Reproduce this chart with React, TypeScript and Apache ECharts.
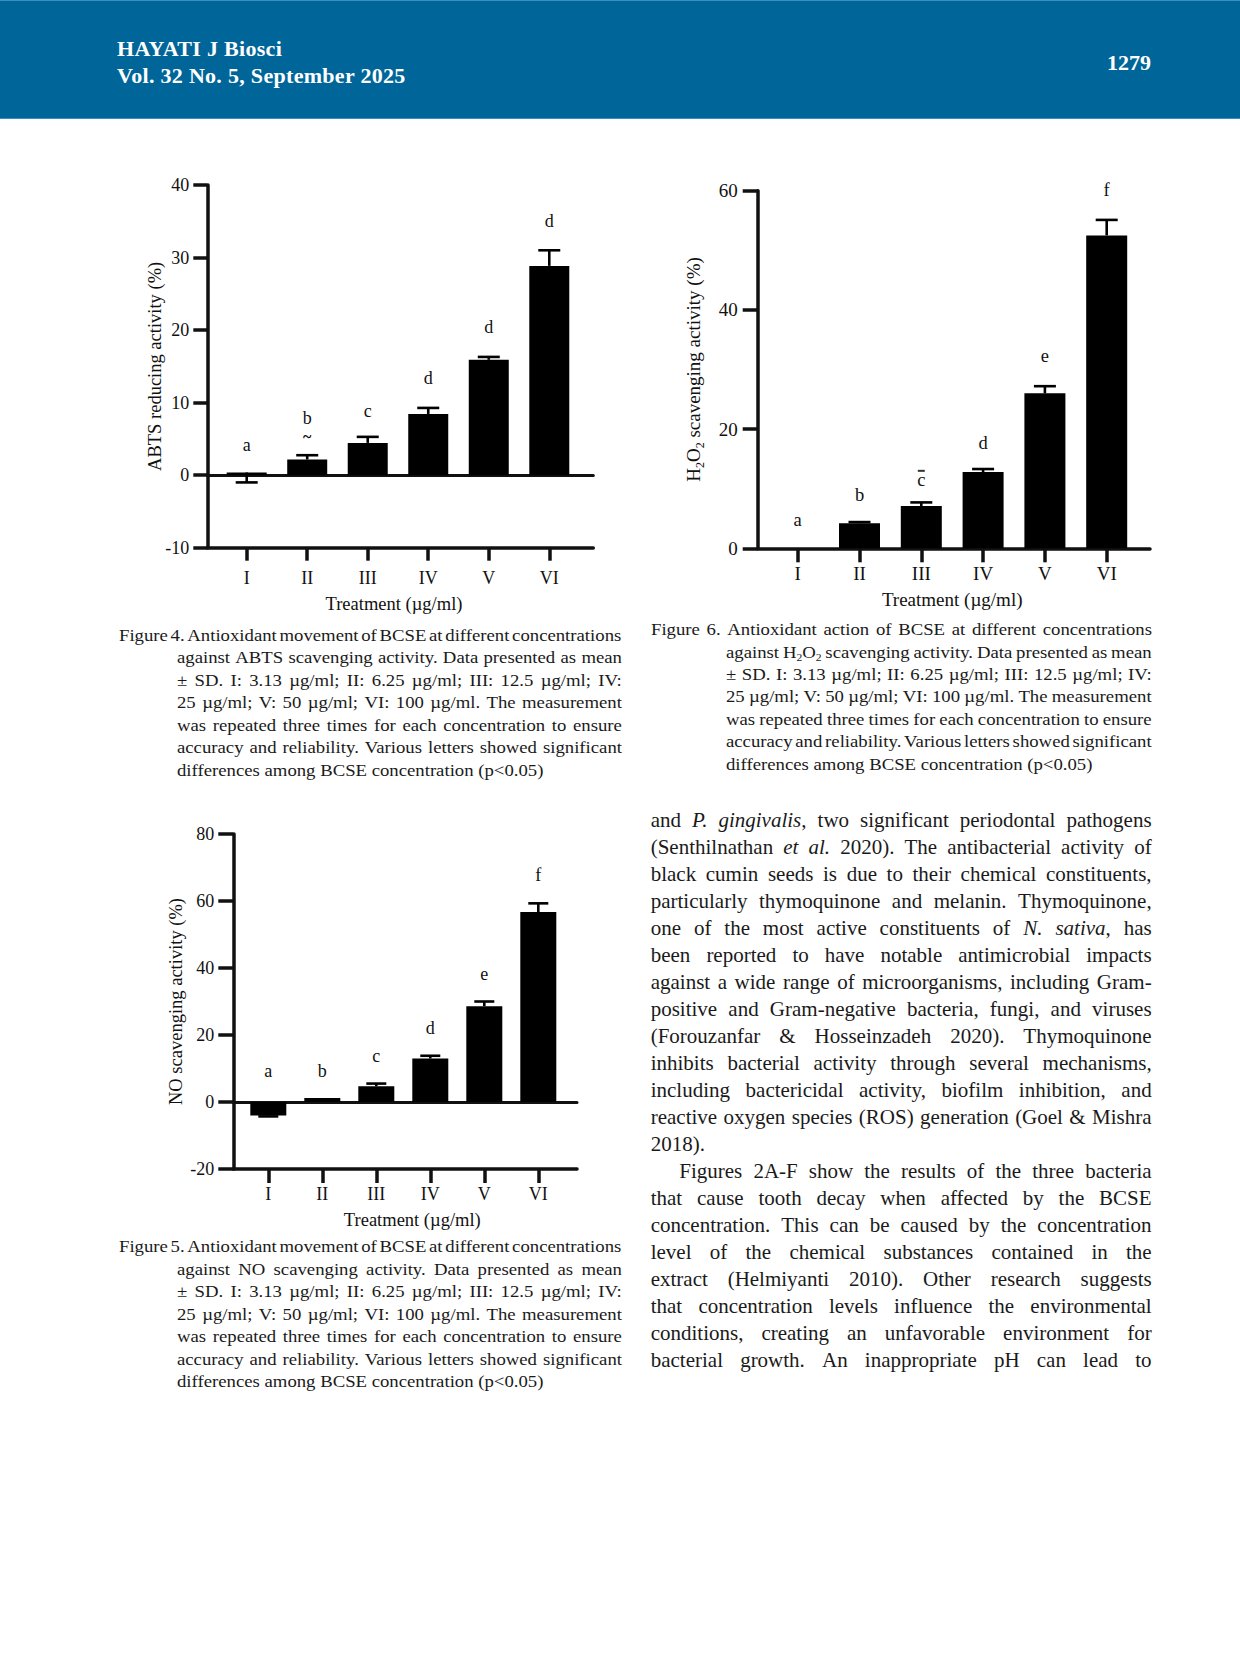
import React, { useEffect, useRef } from "react";
import * as echarts from "echarts";

const SERIF = '"Liberation Serif", "Times New Roman", Times, serif';
const INK = "#111111";
const TEXT = "#1a1a1a";

// ---------------- data ----------------
const CATEGORIES = ["I", "II", "III", "IV", "V", "VI"];
const X_NAME = "Treatment (µg/ml)";

// Figure 4 – ABTS
const ABTS_MEAN = [0.37, 2.16, 4.45, 8.44, 15.9, 28.85];
const ABTS_SD_END = [-1.0, 2.75, 5.28, 9.27, 16.3, 31.0];
const ABTS_LETTERS = ["a", "b", "c", "d", "d", "d"];
const ABTS_LETTER_POS = [4.17, 7.84, 8.8, 13.4, 20.4, 35.1];
const ABTS_TILDE_POS = [null, 5.3, null, null, null, null];
const ABTS_DASH_POS = [null, null, null, null, null, null];
const ABTS_Y_RANGE = [-10, 40, 10];

// Figure 6 – H2O2
const H2O2_MEAN = [0, 4.2, 7.1, 12.8, 26.0, 52.5];
const H2O2_SD_END = [0, 4.4, 7.7, 13.3, 27.2, 55.1];
const H2O2_LETTERS = ["a", "b", "c", "d", "e", "f"];
const H2O2_LETTER_POS = [4.7, 8.9, 11.4, 17.6, 32.3, 60.1];
const H2O2_TILDE_POS = [null, null, null, null, null, null];
const H2O2_DASH_POS = [null, null, 13.0, null, null, null];
const H2O2_Y_RANGE = [0, 60, 20];

// Figure 5 – NO
const NO_MEAN = [-4.0, 1.2, 4.7, 13.0, 28.6, 56.7];
const NO_SD_END = [-4.3, 1.2, 5.5, 13.8, 30.0, 59.3];
const NO_LETTERS = ["a", "b", "c", "d", "e", "f"];
const NO_LETTER_POS = [9.35, 9.15, 13.6, 22.2, 38.1, 67.8];
const NO_TILDE_POS = [null, null, null, null, null, null];
const NO_DASH_POS = [null, null, null, null, null, null];
const NO_Y_RANGE = [-20, 80, 20];

// ---------------- page text ----------------
const HEADER_LEFT = ["HAYATI J Biosci", "Vol. 32 No. 5, September 2025"];
const HEADER_PAGE = "1279";

const CAP4 = [
  "Figure 4. Antioxidant movement of BCSE at different concentrations",
  "against ABTS scavenging activity. Data presented as mean",
  "± SD. I: 3.13 µg/ml; II: 6.25 µg/ml; III: 12.5 µg/ml; IV:",
  "25 µg/ml; V: 50 µg/ml; VI: 100 µg/ml. The measurement",
  "was repeated three times for each concentration to ensure",
  "accuracy and reliability. Various letters showed significant",
  "differences among BCSE concentration (p<0.05)",
];
const CAP6 = [
  "Figure 6. Antioxidant action of BCSE at different concentrations",
  "against H~2~O~2~ scavenging activity. Data presented as mean",
  "± SD. I: 3.13 µg/ml; II: 6.25 µg/ml; III: 12.5 µg/ml; IV:",
  "25 µg/ml; V: 50 µg/ml; VI: 100 µg/ml. The measurement",
  "was repeated three times for each concentration to ensure",
  "accuracy and reliability. Various letters showed significant",
  "differences among BCSE concentration (p<0.05)",
];
const CAP5 = [
  "Figure 5. Antioxidant movement of BCSE at different concentrations",
  "against NO scavenging activity. Data presented as mean",
  "± SD. I: 3.13 µg/ml; II: 6.25 µg/ml; III: 12.5 µg/ml; IV:",
  "25 µg/ml; V: 50 µg/ml; VI: 100 µg/ml. The measurement",
  "was repeated three times for each concentration to ensure",
  "accuracy and reliability. Various letters showed significant",
  "differences among BCSE concentration (p<0.05)",
];
const BODY = [
  "and *P. gingivalis*, two significant periodontal pathogens",
  "(Senthilnathan *et al.* 2020). The antibacterial activity of",
  "black cumin seeds is due to their chemical constituents,",
  "particularly thymoquinone and melanin. Thymoquinone,",
  "one of the most active constituents of *N. sativa*, has",
  "been reported to have notable antimicrobial impacts",
  "against a wide range of microorganisms, including Gram-",
  "positive and Gram-negative bacteria, fungi, and viruses",
  "(Forouzanfar & Hosseinzadeh 2020). Thymoquinone",
  "inhibits bacterial activity through several mechanisms,",
  "including bactericidal activity, biofilm inhibition, and",
  "reactive oxygen species (ROS) generation (Goel & Mishra",
  "2018).",
  "Figures 2A-F show the results of the three bacteria",
  "that cause tooth decay when affected by the BCSE",
  "concentration. This can be caused by the concentration",
  "level of the chemical substances contained in the",
  "extract (Helmiyanti 2010). Other research suggests",
  "that concentration levels influence the environmental",
  "conditions, creating an unfavorable environment for",
  "bacterial growth. An inappropriate pH can lead to",
];
const BODY_LEFT_ALIGNED = [12];
const BODY_INDENTED = [13];

// ---------------- chart layout ----------------
const PANELS = [
  {
    mean: ABTS_MEAN, sdEnd: ABTS_SD_END, letters: ABTS_LETTERS, letterPos: ABTS_LETTER_POS,
    tildePos: ABTS_TILDE_POS, dashPos: ABTS_DASH_POS, yRange: ABTS_Y_RANGE,
    yName: "ABTS reducing activity (%)", rich: false,
    frame: { left: 207.3, top: 185, width: 386, height: 362.7 },
    plotLeft: 216.44, plotWidth: 363.1, barWidth: 40, capWidth: 22, zeroLine: true,
    fontSize: 18, nameSize: 18.5, letterSize: 18,
    yTickLen: 14, yLabelMargin: 18, yNameGap: 43,
    xTickLen: 13, xLabelMargin: 21, xNameGap: 47, xNamePad: [0, 8, 0, 0],
  },
  {
    mean: H2O2_MEAN, sdEnd: H2O2_SD_END, letters: H2O2_LETTERS, letterPos: H2O2_LETTER_POS,
    tildePos: H2O2_TILDE_POS, dashPos: H2O2_DASH_POS, yRange: H2O2_Y_RANGE,
    yName: "H{sub|2}O{sub|2} scavenging activity (%)", rich: true,
    frame: { left: 757.7, top: 190.7, width: 392.3, height: 357.6 },
    plotLeft: 766.8, plotWidth: 370.8, barWidth: 41, capWidth: 22, zeroLine: false,
    fontSize: 19, nameSize: 19, letterSize: 18.5,
    yTickLen: 15, yLabelMargin: 20, yNameGap: 52,
    xTickLen: 14, xLabelMargin: 16, xNameGap: 41.5, xNamePad: [0, 0, 0, 0],
  },
  {
    mean: NO_MEAN, sdEnd: NO_SD_END, letters: NO_LETTERS, letterPos: NO_LETTER_POS,
    tildePos: NO_TILDE_POS, dashPos: NO_DASH_POS, yRange: NO_Y_RANGE,
    yName: "NO scavenging activity (%)", rich: false,
    frame: { left: 233.3, top: 834, width: 343.7, height: 335 },
    plotLeft: 241.3, plotWidth: 324, barWidth: 36, capWidth: 20, zeroLine: true,
    fontSize: 18, nameSize: 18.5, letterSize: 18,
    yTickLen: 15, yLabelMargin: 19, yNameGap: 48,
    xTickLen: 14, xLabelMargin: 16, xNameGap: 41.5, xNamePad: [0, 0, 0, 18],
  },
];

function buildOption() {
  const grid: any[] = [];
  const xAxis: any[] = [];
  const yAxis: any[] = [];
  const series: any[] = [];

  PANELS.forEach((p) => {
    const gA = grid.length;
    grid.push({ left: p.frame.left, top: p.frame.top, width: p.frame.width, height: p.frame.height, containLabel: false, outerBoundsMode: "none" });
    const gB = grid.length;
    grid.push({ left: p.plotLeft, top: p.frame.top, width: p.plotWidth, height: p.frame.height, containLabel: false, outerBoundsMode: "none" });
    const [ymin, ymax, ystep] = p.yRange;

    yAxis.push({
      type: "value", gridIndex: gA, min: ymin, max: ymax, interval: ystep, position: "left",
      axisLine: { show: true, onZero: false, lineStyle: { color: INK, width: 3.5 } },
      axisTick: { show: true, length: p.yTickLen, lineStyle: { color: INK, width: 3.5 } },
      axisLabel: { show: true, margin: p.yLabelMargin, color: INK, fontFamily: SERIF, fontSize: p.fontSize },
      splitLine: { show: false },
      name: p.yName, nameLocation: "middle", nameRotate: 90, nameGap: p.yNameGap, nameMoveOverlap: false,
      nameTextStyle: {
        color: INK, fontFamily: SERIF, fontSize: p.nameSize,
        rich: p.rich ? { sub: { fontSize: 12, fontFamily: SERIF, color: INK, verticalAlign: "bottom", lineHeight: 24 } } : undefined,
      },
    });
    const yB = yAxis.length;
    yAxis.push({ type: "value", gridIndex: gB, min: ymin, max: ymax, interval: ystep, show: false, splitLine: { show: false } });

    xAxis.push({
      type: "value", gridIndex: gA, min: 0, max: 1, position: "bottom",
      axisLine: { show: true, onZero: false, lineStyle: { color: INK, width: 3.5 } },
      axisTick: { show: false }, axisLabel: { show: false }, splitLine: { show: false },
    });
    if (p.zeroLine) {
      xAxis.push({
        type: "value", gridIndex: gA, min: 0, max: 1, position: "top",
        axisLine: { show: true, onZero: true, lineStyle: { color: INK, width: 3 } },
        axisTick: { show: false }, axisLabel: { show: false }, splitLine: { show: false },
      });
    }
    const xB = xAxis.length;
    xAxis.push({
      type: "category", gridIndex: gB, data: CATEGORIES, position: "bottom", boundaryGap: true,
      axisLine: { show: false, onZero: false },
      axisTick: { show: true, alignWithLabel: true, length: p.xTickLen, lineStyle: { color: INK, width: 3.5 } },
      axisLabel: { show: true, interval: 0, margin: p.xLabelMargin, color: INK, fontFamily: SERIF, fontSize: p.fontSize },
      splitLine: { show: false },
      name: X_NAME, nameLocation: "middle", nameGap: p.xNameGap, nameMoveOverlap: false,
      nameTextStyle: { color: INK, fontFamily: SERIF, fontSize: p.nameSize, padding: p.xNamePad },
    });

    series.push({
      type: "bar", xAxisIndex: xB, yAxisIndex: yB, data: p.mean, barWidth: p.barWidth,
      itemStyle: { color: "#000" }, silent: true, z: 2,
    });
    // error bars (whisker + cap)
    series.push({
      type: "custom", xAxisIndex: xB, yAxisIndex: yB, silent: true, z: 3,
      data: p.mean.map((m, i) => [i, m, p.sdEnd[i]]),
      encode: { x: 0, y: [1, 2] },
      renderItem: (params: any, api: any) => {
        const i = api.value(0);
        const a = api.coord([i, api.value(1)]);
        const b = api.coord([i, api.value(2)]);
        if (Math.abs(a[1] - b[1]) < 0.5) return null;
        const h = p.capWidth / 2;
        return {
          type: "group",
          children: [
            { type: "line", shape: { x1: a[0], y1: a[1], x2: b[0], y2: b[1] }, style: { stroke: "#000", lineWidth: 2.6 } },
            { type: "line", shape: { x1: b[0] - h, y1: b[1], x2: b[0] + h, y2: b[1] }, style: { stroke: "#000", lineWidth: 2.6 } },
          ],
        };
      },
    });
    // significance letters
    series.push({
      type: "custom", xAxisIndex: xB, yAxisIndex: yB, silent: true, z: 4,
      data: p.letterPos.map((v, i) => [i, v]),
      encode: { x: 0, y: 1 },
      renderItem: (params: any, api: any) => {
        const pt = api.coord([api.value(0), api.value(1)]);
        return {
          type: "text", x: pt[0], y: pt[1],
          style: { text: p.letters[params.dataIndex], fill: INK, fontFamily: SERIF, fontSize: p.letterSize, align: "center", verticalAlign: "middle" },
        };
      },
    });
    // small stray marks seen in the figure (tilde / short dash)
    series.push({
      type: "custom", xAxisIndex: xB, yAxisIndex: yB, silent: true, z: 4,
      data: p.tildePos.map((v, i) => [i, v == null ? NaN : v, p.dashPos[i] == null ? NaN : p.dashPos[i]]),
      encode: { x: 0, y: [1, 2] },
      renderItem: (params: any, api: any) => {
        const i = api.value(0);
        const children: any[] = [];
        const t = p.tildePos[params.dataIndex];
        const d = p.dashPos[params.dataIndex];
        if (t != null) {
          const pt = api.coord([i, t]);
          children.push({ type: "text", x: pt[0], y: pt[1], style: { text: "~", fill: INK, fontFamily: SERIF, fontSize: 16, fontWeight: "bold", align: "center", verticalAlign: "middle" } });
        }
        if (d != null) {
          const pt = api.coord([i, d]);
          children.push({ type: "line", shape: { x1: pt[0] - 3.5, y1: pt[1], x2: pt[0] + 3.5, y2: pt[1] }, style: { stroke: "#333", lineWidth: 2 } });
        }
        return children.length ? { type: "group", children } : null;
      },
    });
  });

  return { animation: false, backgroundColor: "transparent", grid, xAxis, yAxis, series };
}

// ---------------- text helpers ----------------
type Piece = { text: string; italic: boolean; sub: boolean };

function parsePieces(s: string): Piece[] {
  const out: Piece[] = [];
  let italic = false;
  let sub = false;
  let buf = "";
  const flush = () => {
    if (buf) out.push({ text: buf, italic, sub });
    buf = "";
  };
  for (const ch of s) {
    if (ch === "*") { flush(); italic = !italic; }
    else if (ch === "~") { flush(); sub = !sub; }
    else buf += ch;
  }
  flush();
  return out;
}

function toWords(pieces: Piece[]): Piece[][] {
  const words: Piece[][] = [[]];
  pieces.forEach((pc) => {
    const parts = pc.text.split(" ");
    parts.forEach((part, j) => {
      if (j > 0) words.push([]);
      if (part) words[words.length - 1].push({ ...pc, text: part });
    });
  });
  return words.filter((w) => w.length > 0);
}

function renderPiece(pc: Piece, key: string) {
  let node: any = pc.text;
  if (pc.sub) node = <sub style={{ fontSize: "0.62em", verticalAlign: "-0.3em", lineHeight: 0 }}>{node}</sub>;
  if (pc.italic) node = <i>{node}</i>;
  return <span key={key}>{node}</span>;
}

function TextLine(props: {
  x: number; baseline: number; width: number; fs: number; lh: number; text: string;
  justify: boolean; bold?: boolean; color?: string; align?: string; stretch?: number; spacing?: number;
}) {
  const { x, baseline, width, fs, lh, text, justify, bold, color, align, stretch = 1, spacing = 0 } = props;
  const top = baseline - ((lh - 1.107 * fs) / 2 + 0.891 * fs);
  const base: any = {
    position: "absolute", left: x, top, width: width / stretch, height: lh, lineHeight: lh + "px", fontSize: fs,
    fontFamily: SERIF, fontWeight: bold ? 700 : 400, color: color || TEXT, whiteSpace: "nowrap",
    letterSpacing: spacing, transform: stretch !== 1 ? `scaleX(${stretch})` : undefined, transformOrigin: "0 0",
  };
  const pieces = parsePieces(text);
  if (justify) {
    const words = toWords(pieces);
    return (
      <div style={{ ...base, display: "flex", justifyContent: "space-between", alignItems: "baseline" }}>
        {words.map((w, i) => (
          <span key={i} style={{ whiteSpace: "pre" }}>{w.map((pc, j) => renderPiece(pc, i + "-" + j))}</span>
        ))}
      </div>
    );
  }
  return <div style={{ ...base, textAlign: (align || "left") as any }}>{pieces.map((pc, j) => renderPiece(pc, "p" + j))}</div>;
}

function Caption(props: { lines: string[]; x0: number; indent: number; right: number; base: number; step: number }) {
  const { lines, x0, indent, right, base, step } = props;
  return (
    <>
      {lines.map((t, i) => {
        const x = i === 0 ? x0 : indent;
        return (
          <TextLine key={i} x={x} baseline={base + i * step} width={right - x} fs={17.5} lh={22.5} text={t}
            justify={i !== lines.length - 1} stretch={1.07} />
        );
      })}
    </>
  );
}

export default function App() {
  const ref = useRef<HTMLDivElement>(null);
  useEffect(() => {
    if (!ref.current) return;
    const chart = echarts.init(ref.current, null, { renderer: "svg" });
    chart.setOption(buildOption() as any);
    return () => chart.dispose();
  }, []);

  const bodyLeft = 650.7;
  const bodyRight = 1151.7;
  const bodyBase = 827.3;
  const bodyStep = 27.0;

  return (
    <div style={{ position: "absolute", left: 0, top: 0, width: 1240, height: 1654, background: "#ffffff", overflow: "hidden" }}>
      <div ref={ref} style={{ position: "absolute", left: 0, top: 0, width: 1240, height: 1654 }} />

      {/* header band */}
      <div style={{ position: "absolute", left: 0, top: 0, width: 1240, height: 119, background: "#006699" }} />
      <div style={{ position: "absolute", left: 0, top: 0, width: 1240, height: 1, background: "#3a8fbf" }} />
      <div style={{ position: "absolute", left: 0, top: 117.5, width: 1240, height: 1.8, background: "#3a8fbf" }} />
      <TextLine x={117} baseline={56.7} width={500} fs={22} lh={22} text={HEADER_LEFT[0]} justify={false} bold color="#ffffff" spacing={0.3} />
      <TextLine x={117} baseline={83.3} width={500} fs={22} lh={22} text={HEADER_LEFT[1]} justify={false} bold color="#ffffff" spacing={0.3} />
      <TextLine x={951} baseline={70.7} width={200} fs={22} lh={22} text={HEADER_PAGE} justify={false} bold color="#ffffff" align="right" />

      {/* captions */}
      <Caption lines={CAP4} x0={119.3} indent={176.7} right={621.7} base={641} step={22.5} />
      <Caption lines={CAP6} x0={650.7} indent={726} right={1151.7} base={635.3} step={22.45} />
      <Caption lines={CAP5} x0={119.3} indent={176.7} right={621.7} base={1252.5} step={22.5} />

      {/* body text */}
      {BODY.map((t, i) => {
        const x = BODY_INDENTED.includes(i) ? 679.3 : bodyLeft;
        return (
          <TextLine key={i} x={x} baseline={bodyBase + i * bodyStep} width={bodyRight - x} fs={21} lh={27} text={t}
            justify={!BODY_LEFT_ALIGNED.includes(i)} />
        );
      })}
    </div>
  );
}
